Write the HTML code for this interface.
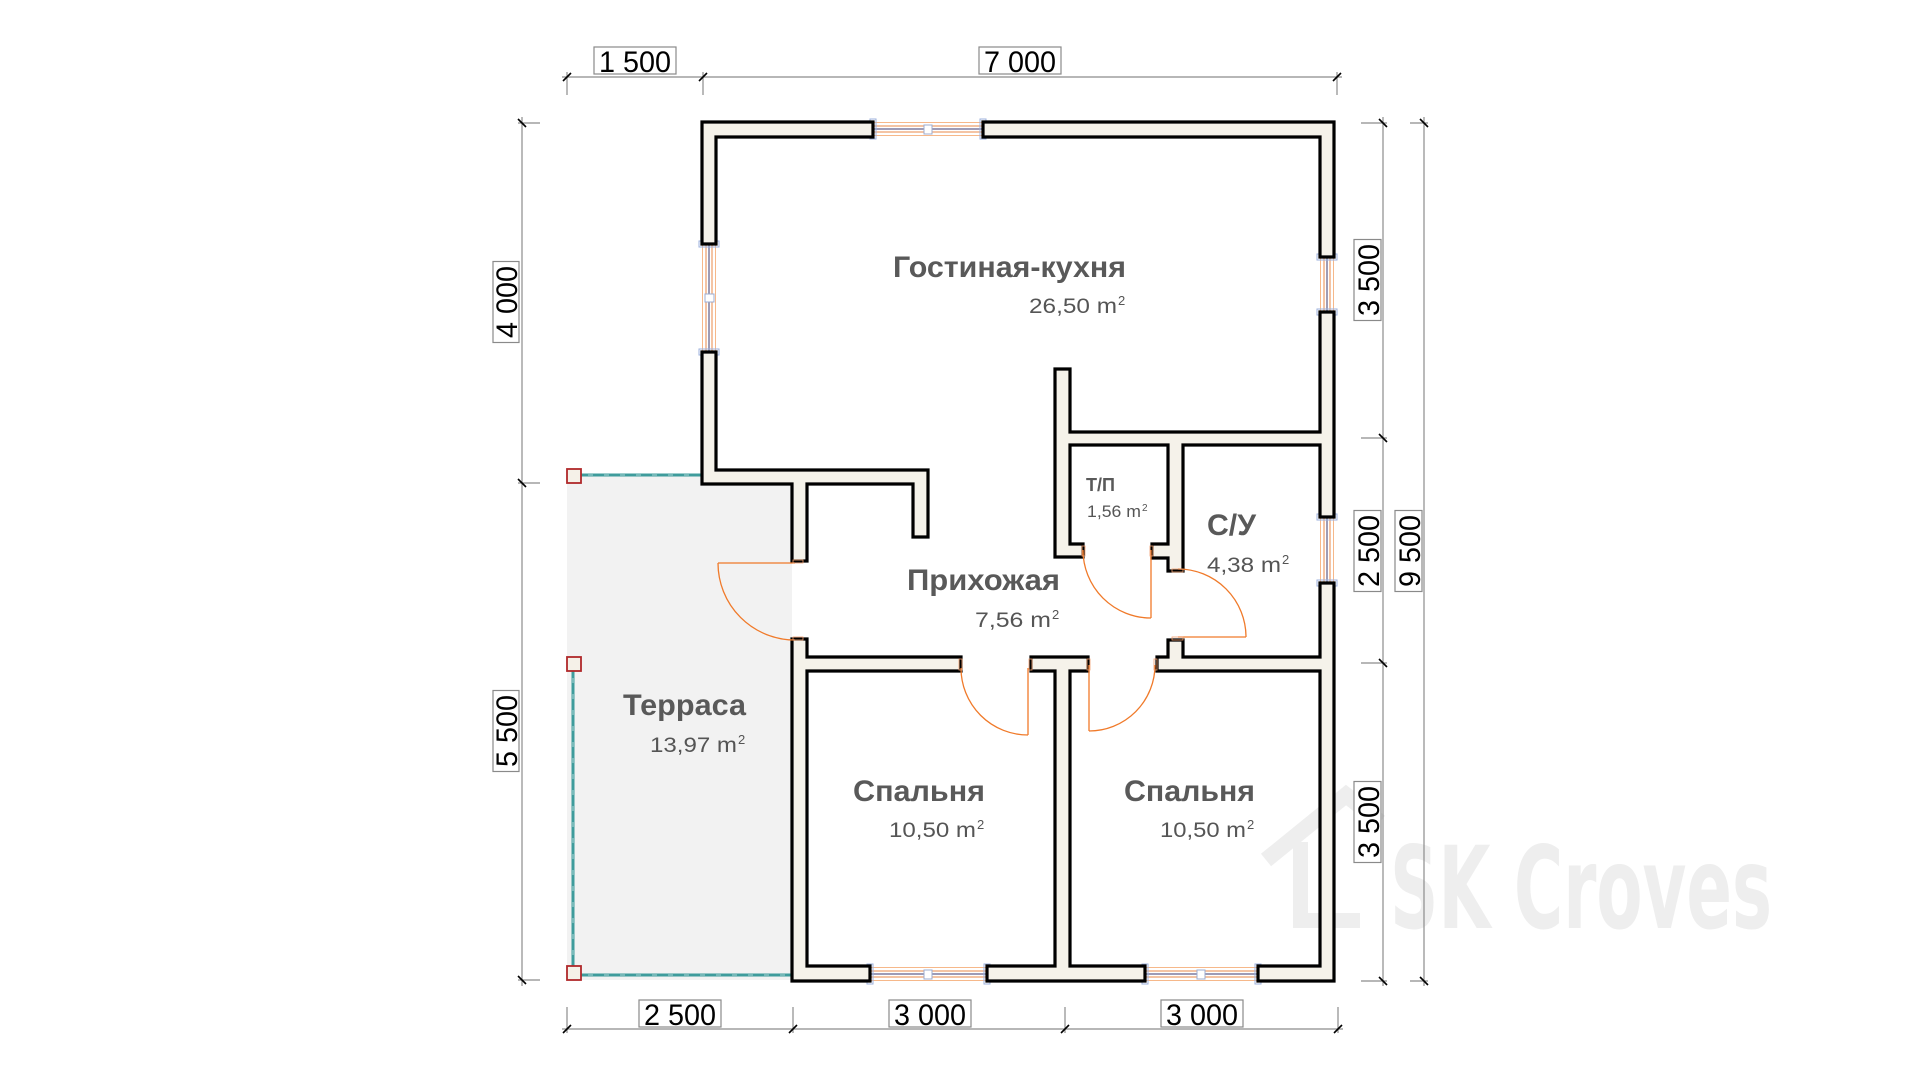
<!DOCTYPE html>
<html>
<head>
<meta charset="utf-8">
<style>
html,body{margin:0;padding:0;background:#fff;}
svg{display:block;}
</style>
</head>
<body>
<svg width="1920" height="1080" viewBox="0 0 1920 1080" xmlns="http://www.w3.org/2000/svg">
<rect width="1920" height="1080" fill="#ffffff"/>

<!-- watermark -->
<g fill="#eeeeee" stroke="none">
  <polyline points="1266,860 1346,795 1380,822" fill="none" stroke="#eeeeee" stroke-width="16" stroke-linejoin="miter"/>
  <rect x="1293" y="842" width="15" height="86"/>
  <rect x="1293" y="913" width="67" height="15"/>
  <text x="1390" y="928" font-family="'DejaVu Sans Condensed','DejaVu Sans',sans-serif" font-weight="bold" font-size="114" textLength="382" lengthAdjust="spacingAndGlyphs">SK Croves</text>
</g>

<!-- terrace -->
<polygon points="567,476 701,476 701,484 792,484 792,980 567,980" fill="#f2f2f2"/>
<g stroke="#3f9c9c" stroke-width="3" fill="none">
  <line x1="581" y1="475" x2="701" y2="475"/>
  <line x1="573" y1="671" x2="573" y2="966"/>
  <line x1="581" y1="975" x2="792" y2="975"/>
</g>
<g stroke="#ffffff" stroke-width="0.8" fill="none" stroke-dasharray="5,11" opacity="0.75">
  <line x1="588" y1="475" x2="700" y2="475"/>
  <line x1="573" y1="678" x2="573" y2="964"/>
  <line x1="588" y1="975" x2="790" y2="975"/>
</g>
<g stroke="#b0282a" stroke-width="1.8" fill="#f5f1e8">
  <rect x="567" y="469" width="14" height="14"/>
  <rect x="567" y="657" width="14" height="14"/>
  <rect x="567" y="966" width="14" height="14"/>
</g>

<!-- windows -->
<g fill="none">
  <g>
    <line x1="873" y1="122.5" x2="983" y2="122.5" stroke="#f6b88a" stroke-width="1"/>
    <line x1="873" y1="126" x2="983" y2="126" stroke="#ea8a48" stroke-width="1"/>
    <line x1="873" y1="129" x2="983" y2="129" stroke="#7d7a9e" stroke-width="1.5"/>
    <line x1="873" y1="132" x2="983" y2="132" stroke="#ea8a48" stroke-width="1"/>
    <line x1="873" y1="135.5" x2="983" y2="135.5" stroke="#f6b88a" stroke-width="1"/>
    <rect x="924" y="125" width="8" height="9" fill="#fff" stroke="#9cacd0"/>
    <rect x="870" y="119" width="6" height="20" stroke="#9cb0dc"/>
    <rect x="980" y="119" width="6" height="20" stroke="#9cb0dc"/>
  </g>
  <g>
    <line x1="870" y1="967.5" x2="987" y2="967.5" stroke="#f6b88a"/>
    <line x1="870" y1="971" x2="987" y2="971" stroke="#ea8a48"/>
    <line x1="870" y1="974" x2="987" y2="974" stroke="#7d7a9e" stroke-width="1.5"/>
    <line x1="870" y1="977" x2="987" y2="977" stroke="#ea8a48"/>
    <line x1="870" y1="980.5" x2="987" y2="980.5" stroke="#f6b88a"/>
    <rect x="924" y="970" width="8" height="9" fill="#fff" stroke="#9cacd0"/>
    <rect x="867" y="964" width="6" height="20" stroke="#9cb0dc"/>
    <rect x="984" y="964" width="6" height="20" stroke="#9cb0dc"/>
  </g>
  <g>
    <line x1="1145" y1="967.5" x2="1258" y2="967.5" stroke="#f6b88a"/>
    <line x1="1145" y1="971" x2="1258" y2="971" stroke="#ea8a48"/>
    <line x1="1145" y1="974" x2="1258" y2="974" stroke="#7d7a9e" stroke-width="1.5"/>
    <line x1="1145" y1="977" x2="1258" y2="977" stroke="#ea8a48"/>
    <line x1="1145" y1="980.5" x2="1258" y2="980.5" stroke="#f6b88a"/>
    <rect x="1197" y="970" width="8" height="9" fill="#fff" stroke="#9cacd0"/>
    <rect x="1142" y="964" width="6" height="20" stroke="#9cb0dc"/>
    <rect x="1255" y="964" width="6" height="20" stroke="#9cb0dc"/>
  </g>
  <g>
    <line x1="702.5" y1="244" x2="702.5" y2="352" stroke="#f6b88a"/>
    <line x1="706" y1="244" x2="706" y2="352" stroke="#ea8a48"/>
    <line x1="709" y1="244" x2="709" y2="352" stroke="#7d7a9e" stroke-width="1.5"/>
    <line x1="712" y1="244" x2="712" y2="352" stroke="#ea8a48"/>
    <line x1="715.5" y1="244" x2="715.5" y2="352" stroke="#f6b88a"/>
    <rect x="705" y="294" width="9" height="8" fill="#fff" stroke="#9cacd0"/>
    <rect x="699" y="241" width="20" height="6" stroke="#9cb0dc"/>
    <rect x="699" y="349" width="20" height="6" stroke="#9cb0dc"/>
  </g>
  <g>
    <line x1="1320.5" y1="257" x2="1320.5" y2="312" stroke="#f6b88a"/>
    <line x1="1324" y1="257" x2="1324" y2="312" stroke="#ea8a48"/>
    <line x1="1327" y1="257" x2="1327" y2="312" stroke="#7d7a9e" stroke-width="1.5"/>
    <line x1="1330" y1="257" x2="1330" y2="312" stroke="#ea8a48"/>
    <line x1="1333.5" y1="257" x2="1333.5" y2="312" stroke="#f6b88a"/>
    <rect x="1317" y="254" width="20" height="6" stroke="#9cb0dc"/>
    <rect x="1317" y="309" width="20" height="6" stroke="#9cb0dc"/>
  </g>
  <g>
    <line x1="1320.5" y1="517" x2="1320.5" y2="583" stroke="#f6b88a"/>
    <line x1="1324" y1="517" x2="1324" y2="583" stroke="#ea8a48"/>
    <line x1="1327" y1="517" x2="1327" y2="583" stroke="#7d7a9e" stroke-width="1.5"/>
    <line x1="1330" y1="517" x2="1330" y2="583" stroke="#ea8a48"/>
    <line x1="1333.5" y1="517" x2="1333.5" y2="583" stroke="#f6b88a"/>
    <rect x="1317" y="514" width="20" height="6" stroke="#9cb0dc"/>
    <rect x="1317" y="580" width="20" height="6" stroke="#9cb0dc"/>
  </g>
</g>

<!-- walls -->
<g fill="#f5f2ea" stroke="#000" stroke-width="3.2" stroke-linejoin="miter">
  <polygon points="873,122 702,122 702,244 716,244 716,137 873,137"/>
  <polygon points="983,122 1334,122 1334,257 1320,257 1320,137 983,137"/>
  <polygon points="702,352 716,352 716,470 928,470 928,537 913,537 913,484 807,484 807,561 792,561 792,484 702,484"/>
  <polygon points="1055,369 1070,369 1070,432 1320,432 1320,312 1334,312 1334,517 1320,517 1320,445 1183,445 1183,571 1168,571 1168,558 1152,558 1152,544 1168,544 1168,445 1070,445 1070,544 1083,544 1083,557 1055,557"/>
  <polygon points="1320,583 1334,583 1334,981 1258,981 1258,966 1320,966 1320,671 1157,671 1157,657 1168,657 1168,640 1183,640 1183,657 1320,657"/>
  <polygon points="987,966 1055,966 1055,671 1031,671 1031,657 1088,657 1088,671 1070,671 1070,966 1145,966 1145,981 987,981"/>
  <polygon points="792,639 807,639 807,657 961,657 961,671 807,671 807,966 870,966 870,981 792,981"/>
</g>

<!-- doors -->
<g fill="none" stroke="#f07a2a" stroke-width="1.3">
  <path d="M718,563 L795,563"/>
  <path d="M718,563 A77,77 0 0 0 795,640"/>
  <path d="M1028,668 L1028,735"/>
  <path d="M1028,735 A67,67 0 0 1 961,668"/>
  <path d="M1089,665 L1089,731"/>
  <path d="M1089,731 A66,66 0 0 0 1155,665"/>
  <path d="M1151,550 L1151,618"/>
  <path d="M1083,550 A68,68 0 0 0 1151,618"/>
  <path d="M1178,637 L1246,637"/>
  <path d="M1178,569 A68,68 0 0 1 1246,637"/>
</g>
<g fill="none" stroke="#f2a070" stroke-width="0.8">
  <rect x="793" y="560" width="10" height="3"/>
  <rect x="793" y="637" width="10" height="3"/>
  <rect x="959" y="659" width="3" height="11"/>
  <rect x="1029" y="659" width="3" height="11"/>
  <rect x="1087" y="659" width="3" height="11"/>
  <rect x="1154" y="659" width="3" height="11"/>
  <rect x="1082" y="546" width="3" height="10"/>
  <rect x="1150" y="546" width="3" height="10"/>
  <rect x="1172" y="569" width="11" height="3"/>
  <rect x="1172" y="637" width="11" height="3"/>
</g>

<!-- dimension lines -->
<g stroke="#8c8c8c" stroke-width="1.2" fill="none">
  <line x1="562" y1="77" x2="1342" y2="77"/>
  <line x1="567" y1="72" x2="567" y2="95"/>
  <line x1="703" y1="72" x2="703" y2="95"/>
  <line x1="1337" y1="72" x2="1337" y2="95"/>
  <line x1="562" y1="1029" x2="1343" y2="1029"/>
  <line x1="567" y1="1007" x2="567" y2="1033"/>
  <line x1="793" y1="1007" x2="793" y2="1033"/>
  <line x1="1065" y1="1007" x2="1065" y2="1033"/>
  <line x1="1338" y1="1007" x2="1338" y2="1033"/>
  <line x1="522" y1="117" x2="522" y2="986"/>
  <line x1="518" y1="123" x2="540" y2="123"/>
  <line x1="518" y1="483" x2="540" y2="483"/>
  <line x1="518" y1="980" x2="540" y2="980"/>
  <line x1="1383" y1="117" x2="1383" y2="986"/>
  <line x1="1361" y1="123" x2="1387" y2="123"/>
  <line x1="1361" y1="438" x2="1387" y2="438"/>
  <line x1="1361" y1="663" x2="1387" y2="663"/>
  <line x1="1361" y1="981" x2="1387" y2="981"/>
  <line x1="1424" y1="117" x2="1424" y2="986"/>
  <line x1="1410" y1="123" x2="1428" y2="123"/>
  <line x1="1410" y1="981" x2="1428" y2="981"/>
</g>
<g stroke="#000" stroke-width="1.6">
  <line x1="563" y1="81" x2="571" y2="73"/>
  <line x1="699" y1="81" x2="707" y2="73"/>
  <line x1="1333" y1="81" x2="1341" y2="73"/>
  <line x1="563" y1="1033" x2="571" y2="1025"/>
  <line x1="789" y1="1033" x2="797" y2="1025"/>
  <line x1="1061" y1="1033" x2="1069" y2="1025"/>
  <line x1="1334" y1="1033" x2="1342" y2="1025"/>
  <line x1="518" y1="119" x2="526" y2="127"/>
  <line x1="518" y1="479" x2="526" y2="487"/>
  <line x1="518" y1="976" x2="526" y2="984"/>
  <line x1="1379" y1="119" x2="1387" y2="127"/>
  <line x1="1379" y1="434" x2="1387" y2="442"/>
  <line x1="1379" y1="659" x2="1387" y2="667"/>
  <line x1="1379" y1="977" x2="1387" y2="985"/>
  <line x1="1420" y1="119" x2="1428" y2="127"/>
  <line x1="1420" y1="977" x2="1428" y2="985"/>
</g>

<!-- dimension labels -->
<g font-family="'Liberation Sans', Arial, sans-serif" font-size="30" fill="#000">
  <rect x="594" y="47" width="82" height="27" fill="#fff" stroke="#8a8a8a" stroke-width="1.2"/>
  <text x="635" y="72" text-anchor="middle" textLength="72" lengthAdjust="spacingAndGlyphs">1 500</text>
  <rect x="979" y="47" width="82" height="27" fill="#fff" stroke="#8a8a8a" stroke-width="1.2"/>
  <text x="1020" y="72" text-anchor="middle" textLength="72" lengthAdjust="spacingAndGlyphs">7 000</text>

  <rect x="639" y="1000" width="82" height="27" fill="#fff" stroke="#8a8a8a" stroke-width="1.2"/>
  <text x="680" y="1025" text-anchor="middle" textLength="72" lengthAdjust="spacingAndGlyphs">2 500</text>
  <rect x="889" y="1000" width="82" height="27" fill="#fff" stroke="#8a8a8a" stroke-width="1.2"/>
  <text x="930" y="1025" text-anchor="middle" textLength="72" lengthAdjust="spacingAndGlyphs">3 000</text>
  <rect x="1161" y="1000" width="82" height="27" fill="#fff" stroke="#8a8a8a" stroke-width="1.2"/>
  <text x="1202" y="1025" text-anchor="middle" textLength="72" lengthAdjust="spacingAndGlyphs">3 000</text>

  <g transform="translate(517,302) rotate(-90)">
    <rect x="-40.5" y="-24" width="81" height="26" fill="#fff" stroke="#8a8a8a" stroke-width="1.2"/>
    <text x="0" y="0" text-anchor="middle" textLength="72" lengthAdjust="spacingAndGlyphs">4 000</text>
  </g>
  <g transform="translate(517,731) rotate(-90)">
    <rect x="-40.5" y="-24" width="81" height="26" fill="#fff" stroke="#8a8a8a" stroke-width="1.2"/>
    <text x="0" y="0" text-anchor="middle" textLength="72" lengthAdjust="spacingAndGlyphs">5 500</text>
  </g>
  <g transform="translate(1379,280) rotate(-90)">
    <rect x="-40.5" y="-25" width="81" height="27" fill="#fff" stroke="#8a8a8a" stroke-width="1.2"/>
    <text x="0" y="0" text-anchor="middle" textLength="72" lengthAdjust="spacingAndGlyphs">3 500</text>
  </g>
  <g transform="translate(1379,551) rotate(-90)">
    <rect x="-40.5" y="-25" width="81" height="27" fill="#fff" stroke="#8a8a8a" stroke-width="1.2"/>
    <text x="0" y="0" text-anchor="middle" textLength="72" lengthAdjust="spacingAndGlyphs">2 500</text>
  </g>
  <g transform="translate(1379,822) rotate(-90)">
    <rect x="-40.5" y="-25" width="81" height="27" fill="#fff" stroke="#8a8a8a" stroke-width="1.2"/>
    <text x="0" y="0" text-anchor="middle" textLength="72" lengthAdjust="spacingAndGlyphs">3 500</text>
  </g>
  <g transform="translate(1420,551) rotate(-90)">
    <rect x="-40.5" y="-25" width="81" height="27" fill="#fff" stroke="#8a8a8a" stroke-width="1.2"/>
    <text x="0" y="0" text-anchor="middle" textLength="72" lengthAdjust="spacingAndGlyphs">9 500</text>
  </g>
</g>

<!-- room names -->
<g font-family="'Liberation Sans', Arial, sans-serif" font-weight="bold" font-size="30" fill="#595959">
  <text x="893" y="277" textLength="233" lengthAdjust="spacingAndGlyphs">Гостиная-кухня</text>
  <text x="907" y="590" textLength="153" lengthAdjust="spacingAndGlyphs">Прихожая</text>
  <text x="1207" y="535" textLength="49" lengthAdjust="spacingAndGlyphs">С/У</text>
  <text x="623" y="715" textLength="123" lengthAdjust="spacingAndGlyphs">Терраса</text>
  <text x="853" y="801" textLength="132" lengthAdjust="spacingAndGlyphs">Спальня</text>
  <text x="1124" y="801" textLength="131" lengthAdjust="spacingAndGlyphs">Спальня</text>
  <text x="1086" y="491" font-size="18" textLength="29" lengthAdjust="spacingAndGlyphs">Т/П</text>
</g>

<!-- areas -->
<g font-family="'Liberation Sans', Arial, sans-serif" font-size="21" fill="#555">
  <text x="1029" y="313" textLength="88" lengthAdjust="spacingAndGlyphs">26,50 m</text>
  <text x="1118" y="305" font-size="13">2</text>

  <text x="975" y="627" textLength="76" lengthAdjust="spacingAndGlyphs">7,56 m</text>
  <text x="1052" y="619" font-size="13">2</text>

  <text x="1207" y="572" textLength="74" lengthAdjust="spacingAndGlyphs">4,38 m</text>
  <text x="1282" y="564" font-size="13">2</text>

  <text x="650" y="752" textLength="87" lengthAdjust="spacingAndGlyphs">13,97 m</text>
  <text x="738" y="744" font-size="13">2</text>

  <text x="889" y="837" textLength="87" lengthAdjust="spacingAndGlyphs">10,50 m</text>
  <text x="977" y="829" font-size="13">2</text>

  <text x="1160" y="837" textLength="86" lengthAdjust="spacingAndGlyphs">10,50 m</text>
  <text x="1247" y="829" font-size="13">2</text>

  <text x="1087" y="517" font-size="17" textLength="54" lengthAdjust="spacingAndGlyphs">1,56 m</text>
  <text x="1142" y="511" font-size="10">2</text>
</g>
</svg>
</body>
</html>
